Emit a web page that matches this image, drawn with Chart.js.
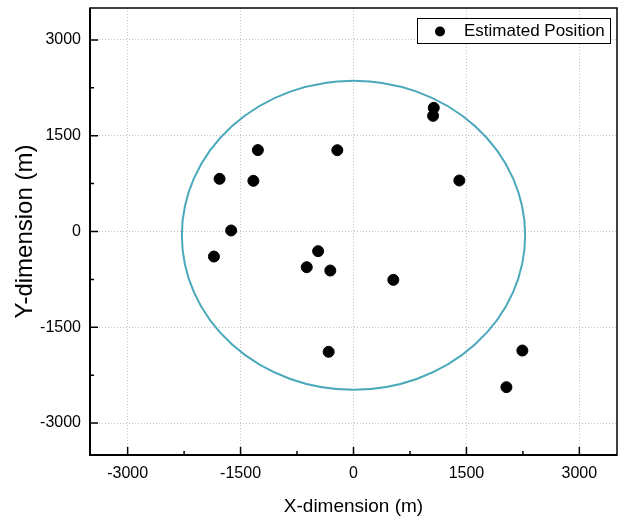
<!DOCTYPE html>
<html>
<head>
<meta charset="utf-8">
<script src="https://cdn.jsdelivr.net/npm/chart.js@4"></script>
<style>
  html, body { margin: 0; padding: 0; background: #fff; }
  #wrap { width: 620px; height: 521px; }
</style>
</head>
<body>
<div id="wrap"><canvas id="posChart" width="620" height="521"></canvas></div>
<script>
// estimated positions (m)
const xPos = [-1270, -1779, -1330, -1625, -1854, -470, 1066, 1057, -215, 1406, -621, -308, 529, -330, 2243, 2031];
const yPos = [1275, 825, 794, 16, -392, -308, 1937, 1811, 1273, 799, -559, -611, -757, -1884, -1864, -2438];

// coverage boundary: centre and radii in metres
const boundaryCenter = [0, -60];
const boundaryRadius = [2280, 2420];

const tickVals = [-3000, -1500, 0, 1500, 3000];
const minorVals = [-2250, -750, 750, 2250];
const axisRange = [-3500, 3500];

const points = xPos.map((x, i) => ({ x: x, y: yPos[i] }));

const fontFam = "Arial, 'Liberation Sans', sans-serif";

const framePlugin = {
    id: 'frame',
    beforeDatasetsDraw(chart) {
        const ctx = chart.ctx;
        const xs = chart.scales.x, ys = chart.scales.y;
        const a = chart.chartArea;
        const cx = xs.getPixelForValue(boundaryCenter[0]);
        const cy = ys.getPixelForValue(boundaryCenter[1]);
        const rx = xs.getPixelForValue(boundaryCenter[0] + boundaryRadius[0]) - cx;
        const ry = cy - ys.getPixelForValue(boundaryCenter[1] + boundaryRadius[1]);
        ctx.save();
        ctx.beginPath();
        ctx.rect(a.left, a.top, a.right - a.left, a.bottom - a.top);
        ctx.clip();
        ctx.beginPath();
        ctx.ellipse(cx, cy, rx, ry, 0, 0, Math.PI * 2);
        ctx.strokeStyle = '#4aa8bb';
        ctx.lineWidth = 2;
        ctx.stroke();
        ctx.restore();
    },
    afterDraw(chart) {
        const ctx = chart.ctx;
        const xs = chart.scales.x, ys = chart.scales.y;
        const a = chart.chartArea;
        ctx.save();
        ctx.strokeStyle = '#000';
        // frame
        ctx.lineWidth = 1.5;
        ctx.strokeRect(a.left, a.top, a.right - a.left, a.bottom - a.top);
        ctx.lineWidth = 2;
        ctx.beginPath();
        ctx.moveTo(a.left, a.top);
        ctx.lineTo(a.left, a.bottom);
        ctx.lineTo(a.right, a.bottom);
        ctx.stroke();
        // inward ticks
        ctx.lineWidth = 1.5;
        ctx.beginPath();
        tickVals.forEach(v => {
            const px = xs.getPixelForValue(v);
            ctx.moveTo(px, a.bottom); ctx.lineTo(px, a.bottom - 8);
            const py = ys.getPixelForValue(v);
            ctx.moveTo(a.left, py); ctx.lineTo(a.left + 8, py);
        });
        minorVals.forEach(v => {
            const px = xs.getPixelForValue(v);
            ctx.moveTo(px, a.bottom); ctx.lineTo(px, a.bottom - 4);
            const py = ys.getPixelForValue(v);
            ctx.moveTo(a.left, py); ctx.lineTo(a.left + 4, py);
        });
        ctx.stroke();
        // legend box
        const lx = 417, ly = 18, lw = 193, lh = 25;
        ctx.fillStyle = '#fff';
        ctx.fillRect(lx, ly, lw, lh);
        ctx.lineWidth = 1;
        ctx.strokeRect(lx + 0.5, ly + 0.5, lw, lh);
        ctx.fillStyle = '#000';
        ctx.beginPath();
        ctx.arc(lx + 23, ly + 13.5, 5, 0, Math.PI * 2);
        ctx.fill();
        ctx.font = '17px ' + fontFam;
        ctx.textBaseline = 'middle';
        ctx.textAlign = 'left';
        ctx.fillText(chart.data.datasets[0].label, lx + 47, ly + 13);
        ctx.restore();
    }
};

const ctx = document.getElementById('posChart').getContext('2d');
new Chart(ctx, {
    type: 'scatter',
    data: {
        datasets: [{
            label: 'Estimated Position',
            data: points,
            backgroundColor: '#000',
            borderColor: '#000',
            pointRadius: 5.5,
            pointHoverRadius: 5.5
        }]
    },
    plugins: [framePlugin],
    options: {
        responsive: false,
        animation: false,
        layout: { autoPadding: false, padding: { top: 8, right: 3, left: 0, bottom: 0 } },
        plugins: {
            legend: { display: false },
            tooltip: { enabled: false }
        },
        scales: {
            x: {
                type: 'linear',
                min: axisRange[0],
                max: axisRange[1],
                afterBuildTicks: s => { s.ticks = tickVals.map(v => ({ value: v })); },
                afterFit: s => { s.height = 66; s.paddingLeft = 0; s.paddingRight = 0; },
                grid: {
                    drawTicks: false,
                    color: '#c4c4c4',
                    lineWidth: 1
                },
                border: { display: false, dash: [1, 2] },
                ticks: {
                    padding: 9,
                    color: '#000',
                    font: { size: 16, family: fontFam },
                    maxRotation: 0,
                    callback: v => String(v)
                },
                title: {
                    display: true,
                    text: 'X-dimension (m)',
                    color: '#000',
                    font: { size: 19, family: fontFam },
                    padding: { top: 0, bottom: 3 }
                }
            },
            y: {
                type: 'linear',
                min: axisRange[0],
                max: axisRange[1],
                afterBuildTicks: s => { s.ticks = tickVals.map(v => ({ value: v })); },
                afterFit: s => { s.width = 90; s.paddingTop = 0; s.paddingBottom = 0; },
                grid: {
                    drawTicks: false,
                    color: '#c4c4c4',
                    lineWidth: 1
                },
                border: { display: false, dash: [1, 2] },
                ticks: {
                    padding: 9,
                    color: '#000',
                    font: { size: 16, family: fontFam },
                    callback: v => String(v)
                },
                title: {
                    display: true,
                    text: 'Y-dimension (m)',
                    color: '#000',
                    font: { size: 24, family: fontFam },
                    padding: { top: 11, bottom: 0 }
                }
            }
        }
    }
});
</script>
</body>
</html>
